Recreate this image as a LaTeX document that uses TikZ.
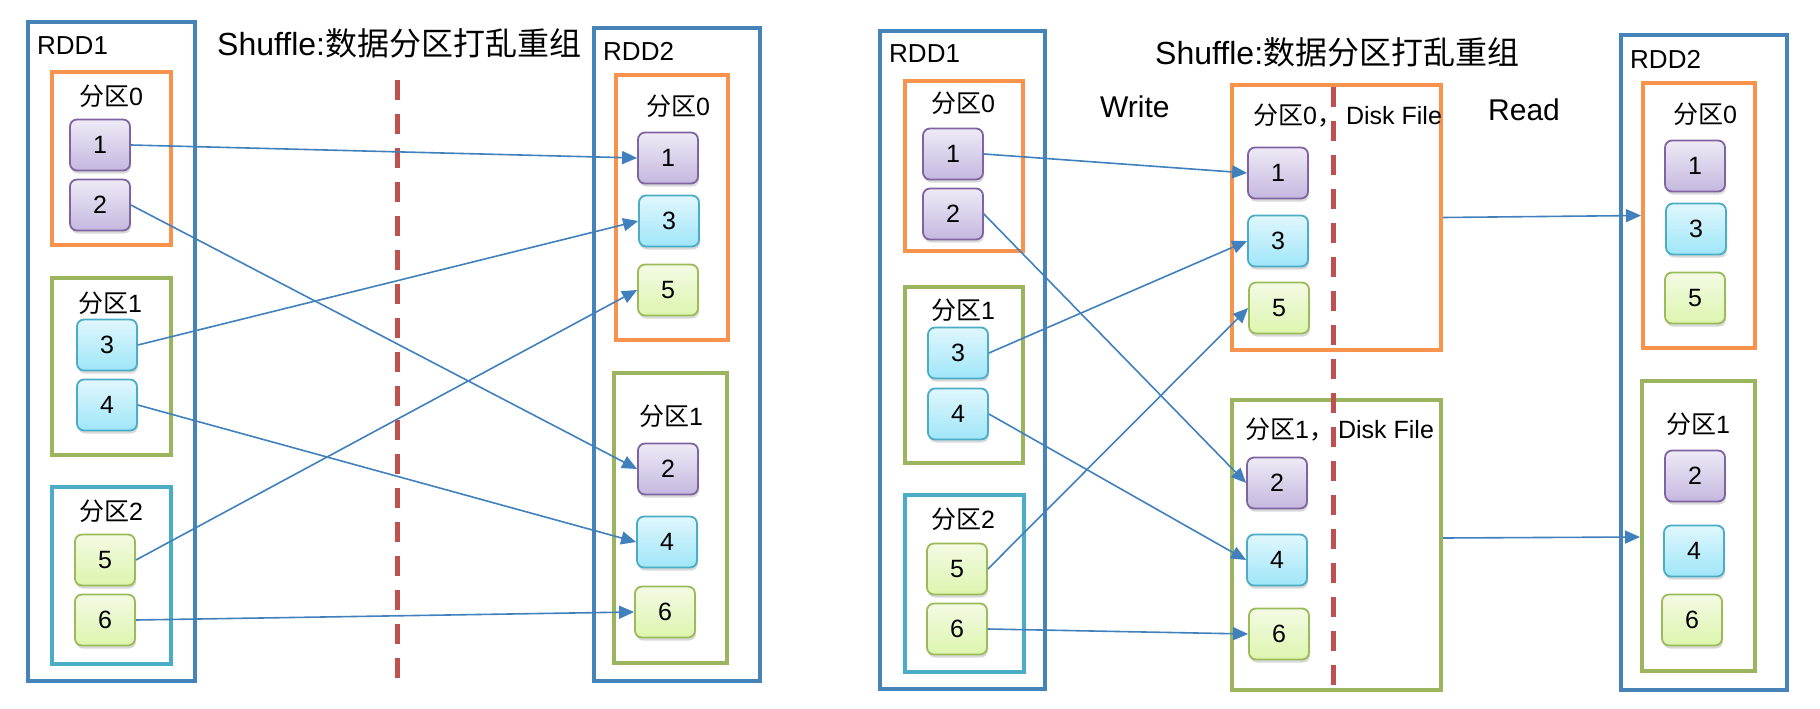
\documentclass[tikz,border=0pt]{standalone}
\usepackage{fontspec}
\setmainfont{Liberation Sans}
\newfontfamily\cjk{Noto Sans CJK SC}
\usetikzlibrary{arrows.meta,shadows,calc}
\definecolor{rddblue}{RGB}{70,131,184}
\definecolor{partorange}{RGB}{247,147,76}
\definecolor{partgreen}{RGB}{155,181,94}
\definecolor{partteal}{RGB}{75,172,198}
\definecolor{dashred}{RGB}{192,80,77}
\definecolor{arrowblue}{RGB}{64,128,189}
\definecolor{purB}{RGB}{128,100,162}
\definecolor{purT}{RGB}{238,234,246}
\definecolor{purD}{RGB}{197,184,223}
\definecolor{cyaB}{RGB}{75,172,198}
\definecolor{cyaT}{RGB}{224,247,253}
\definecolor{cyaD}{RGB}{159,230,248}
\definecolor{greB}{RGB}{155,187,89}
\definecolor{greT}{RGB}{244,250,228}
\definecolor{greD}{RGB}{220,245,174}
\newcommand{\fenqu}{{\cjk 分区}}
\newcommand{\cjkcomma}{{\cjk ，}}
\begin{document}
\begin{tikzpicture}[x=1pt,y=-1pt,
  rddbox/.style={draw=rddblue, line width=4.5pt, rectangle, inner sep=0pt},
  partbox/.style={draw=#1, line width=4pt, rectangle, inner sep=0pt},
  item/.style={rectangle, rounded corners=7pt, line width=1.8pt, minimum width=60pt, minimum height=51pt, inner sep=0pt,
    font=\fontsize{25}{30}\selectfont,
    drop shadow={opacity=0.3, shadow xshift=1pt, shadow yshift=-3pt}},
  pur/.style={item, draw=purB, top color=purT, bottom color=purD},
  cya/.style={item, draw=cyaB, top color=cyaT, bottom color=cyaD},
  gre/.style={item, draw=greB, top color=greT, bottom color=greD},
  lab/.style={inner sep=0pt, font=\fontsize{25}{30}\selectfont},
  rddlab/.style={inner sep=0pt, font=\fontsize{26}{30}\selectfont, anchor=base west},
  biglab/.style={inner sep=0pt, font=\fontsize{32}{36}\selectfont, anchor=base west},
  arr/.style={draw=arrowblue, line width=1.6pt, -{Triangle[length=15pt,width=13pt]}},
  divider/.style={draw=dashred, line width=5pt, dash pattern=on 20pt off 14pt}
]
\useasboundingbox (0,0) rectangle (1820,709);

% ---------------- left diagram ----------------
\node[rddbox, minimum width=167pt, minimum height=659pt] (rddLa) at (111.5,351.5) {};
\node[partbox=partorange, minimum width=119pt, minimum height=173pt] (pLa0) at (111.5,158.5) {};
\node[partbox=partgreen, minimum width=119pt, minimum height=177pt] (pLa1) at (111.5,366.5) {};
\node[partbox=partteal, minimum width=119pt, minimum height=177pt] (pLa2) at (111.5,575.5) {};
\node[rddbox, minimum width=166pt, minimum height=653pt] (rddLb) at (677,354.5) {};
\node[partbox=partorange, minimum width=112pt, minimum height=265pt] (pLb0) at (672,207.5) {};
\node[partbox=partgreen, minimum width=113pt, minimum height=290pt] (pLb1) at (670.5,518) {};

\coordinate (dLtop) at (397,80);
\coordinate (dLbot) at (397,692);
\draw[divider] (dLtop) -- (dLbot);

\node[rddlab] (tRDDLa) at (37,55) {RDD1};
\node[rddlab] (tRDDLb) at (603,60) {RDD2};
\node[biglab] (tShL) at (217,56) {Shuffle:{\cjk 数据分区打乱重组}};
\node[lab, anchor=base] (tpLa0) at (111,105) {\fenqu0};
\node[lab, anchor=base] (tpLa1) at (110,312) {\fenqu1};
\node[lab, anchor=base] (tpLa2) at (111,520) {\fenqu2};
\node[lab, anchor=base] (tpLb0) at (678,115) {\fenqu0};
\node[lab, anchor=base] (tpLb1) at (671,425) {\fenqu1};

\node[pur] (La1) at (100,145) {1};
\node[pur] (La2) at (100,205) {2};
\node[cya] (La3) at (107,345) {3};
\node[cya] (La4) at (107,405) {4};
\node[gre] (La5) at (105,560) {5};
\node[gre] (La6) at (105,620) {6};

\node[pur] (Lb1) at (668,158) {1};
\node[cya] (Lb3) at (669,221) {3};
\node[gre] (Lb5) at (668,290) {5};
\node[pur] (Lb2) at (668,469) {2};
\node[cya] (Lb4) at (667,542) {4};
\node[gre] (Lb6) at (665,612) {6};

\draw[arr] (La1.east) -- (Lb1.west);
\draw[arr] (La2.east) -- (Lb2.west);
\draw[arr] (La3.east) -- (Lb3.west);
\draw[arr] (La4.east) -- (Lb4.west);
\draw[arr] (La5.east) -- (Lb5.west);
\draw[arr] (La6.east) -- (Lb6.west);

% ---------------- right diagram ----------------
\node[rddbox, minimum width=165pt, minimum height=658pt] (rddRa) at (962.5,360) {};
\node[partbox=partorange, minimum width=118pt, minimum height=170pt] (pRa0) at (964,166) {};
\node[partbox=partgreen, minimum width=118pt, minimum height=176pt] (pRa1) at (964,375) {};
\node[partbox=partteal, minimum width=119pt, minimum height=177pt] (pRa2) at (964.5,583.5) {};
\node[partbox=partorange, minimum width=209pt, minimum height=265pt] (disk0) at (1336.5,217.5) {};
\node[partbox=partgreen, minimum width=209pt, minimum height=290pt] (disk1) at (1336.5,545) {};
\node[rddbox, minimum width=166pt, minimum height=655pt] (rddRb) at (1704,362.5) {};
\node[partbox=partorange, minimum width=112pt, minimum height=265pt] (pRb0) at (1699,215.5) {};
\node[partbox=partgreen, minimum width=113pt, minimum height=290pt] (pRb1) at (1698.5,526) {};

\coordinate (dRtop) at (1333,87);
\coordinate (dRbot) at (1333,697);
\draw[divider] (dRtop) -- (dRbot);

\node[rddlab] (tRDDRa) at (889,63) {RDD1};
\node[rddlab] (tRDDRb) at (1630,68) {RDD2};
\node[biglab] (tShR) at (1155,65) {Shuffle:{\cjk 数据分区打乱重组}};
\node[biglab, font=\fontsize{30}{36}\selectfont] (tWrite) at (1100,117) {Write};
\node[biglab, font=\fontsize{30}{36}\selectfont] (tRead) at (1488,120) {Read};
\node[lab, anchor=base] (tpRa0) at (963,112) {\fenqu0};
\node[lab, anchor=base] (tpRa1) at (963,319) {\fenqu1};
\node[lab, anchor=base] (tpRa2) at (963,528) {\fenqu2};
\node[lab, anchor=base west] (tdisk0) at (1253,124) {\fenqu0\cjkcomma\hspace{4pt}Disk File};
\node[lab, anchor=base west] (tdisk1) at (1245,438) {\fenqu1\cjkcomma\hspace{4pt}Disk File};
\node[lab, anchor=base] (tpRb0) at (1705,123) {\fenqu0};
\node[lab, anchor=base] (tpRb1) at (1698,433) {\fenqu1};

\node[pur] (Ra1) at (953,154) {1};
\node[pur] (Ra2) at (953,214) {2};
\node[cya] (Ra3) at (958,353) {3};
\node[cya] (Ra4) at (958,414) {4};
\node[gre] (Ra5) at (957,569) {5};
\node[gre] (Ra6) at (957,629) {6};

\node[pur] (Dk1) at (1278,173) {1};
\node[cya] (Dk3) at (1278,241) {3};
\node[gre] (Dk5) at (1279,308) {5};
\node[pur] (Dk2) at (1277,483) {2};
\node[cya] (Dk4) at (1277,560) {4};
\node[gre] (Dk6) at (1279,634) {6};

\node[pur] (Rb1) at (1695,166) {1};
\node[cya] (Rb3) at (1696,229) {3};
\node[gre] (Rb5) at (1695,298) {5};
\node[pur] (Rb2) at (1695,476) {2};
\node[cya] (Rb4) at (1694,551) {4};
\node[gre] (Rb6) at (1692,620) {6};

\draw[arr] (Ra1.east) -- (Dk1.west);
\draw[arr] (Ra2.east) -- (Dk2.west);
\draw[arr] (Ra3.east) -- (Dk3.west);
\draw[arr] (Ra4.east) -- (Dk4.west);
\draw[arr] (Ra5.east) -- (Dk5.west);
\draw[arr] (Ra6.east) -- (Dk6.west);

\draw[arr] (disk0.east) -- (pRb0.west);
\draw[arr] ([yshift=7pt]disk1.east) -- ([yshift=-11pt]pRb1.west);
\end{tikzpicture}
\end{document}
